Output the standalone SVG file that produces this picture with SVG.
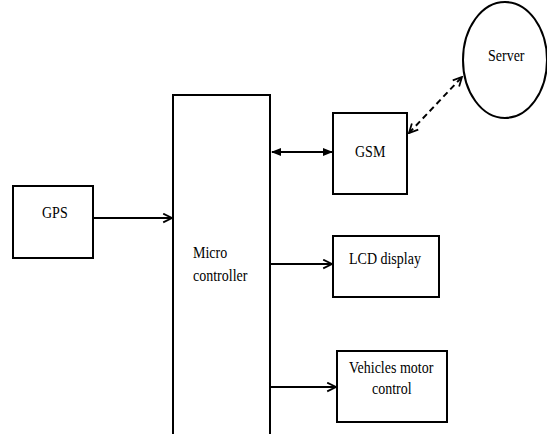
<svg xmlns="http://www.w3.org/2000/svg" width="547" height="434" viewBox="0 0 547 434">
<style>
.box{fill:#fff;stroke:#000;stroke-width:2}
.t{font-family:"Liberation Serif","Times New Roman","DejaVu Serif",serif;font-size:14px;fill:#000}
.ln{stroke:#000;stroke-width:2;fill:none}
</style>
<defs>
<marker id="open" viewBox="0 0 10 10" refX="9" refY="5" markerWidth="5.5" markerHeight="5.5" orient="auto-start-reverse" markerUnits="strokeWidth">
<path d="M1,1 L9,5 L1,9" fill="none" stroke="#000" stroke-width="1.6"/>
</marker>
<marker id="fill" viewBox="0 0 10 10" refX="9" refY="5" markerWidth="5" markerHeight="5" orient="auto-start-reverse" markerUnits="strokeWidth">
<path d="M0,1 L10,5 L0,9 Z" fill="#000"/>
</marker>
</defs>
<rect width="547" height="434" fill="#fff"/>
<g id="connectors">
<line class="ln" x1="93" y1="218" x2="172" y2="218" marker-end="url(#open)"/>
<line class="ln" x1="272" y1="152" x2="332" y2="152" marker-start="url(#fill)" marker-end="url(#fill)"/>
<line class="ln" x1="270" y1="264" x2="332" y2="264" marker-end="url(#open)"/>
<line class="ln" x1="270" y1="387" x2="336" y2="387" marker-end="url(#open)"/>
<line class="ln" x1="409" y1="133" x2="462" y2="77" stroke-dasharray="6,4" marker-start="url(#open)" marker-end="url(#open)"/>
</g>
<g id="gps">
<rect class="box" x="13" y="186" width="80" height="72"/>
<text class="t" transform="translate(42,218) scale(1,1.2)">GPS</text>
</g>
<g id="microcontroller">
<rect class="box" x="173" y="95" width="97" height="340"/>
<text class="t" transform="translate(193,258) scale(1,1.2)">Micro</text>
<text class="t" transform="translate(193,281) scale(1,1.2)">controller</text>
</g>
<g id="gsm">
<rect class="box" x="333" y="113" width="74" height="81"/>
<text class="t" transform="translate(355,157) scale(1,1.2)">GSM</text>
</g>
<g id="server">
<ellipse cx="505" cy="60" rx="42" ry="58" fill="#fff" stroke="#000" stroke-width="2"/>
<text class="t" transform="translate(488,61) scale(1,1.2)">Server</text>
</g>
<g id="lcd">
<rect class="box" x="333" y="236" width="106" height="61"/>
<text class="t" transform="translate(349,264) scale(1,1.2)">LCD display</text>
</g>
<g id="motor">
<rect class="box" x="337" y="351" width="110" height="71"/>
<text class="t" transform="translate(349,373) scale(1,1.2)">Vehicles motor</text>
<text class="t" transform="translate(372,394) scale(1,1.2)">control</text>
</g>
</svg>
